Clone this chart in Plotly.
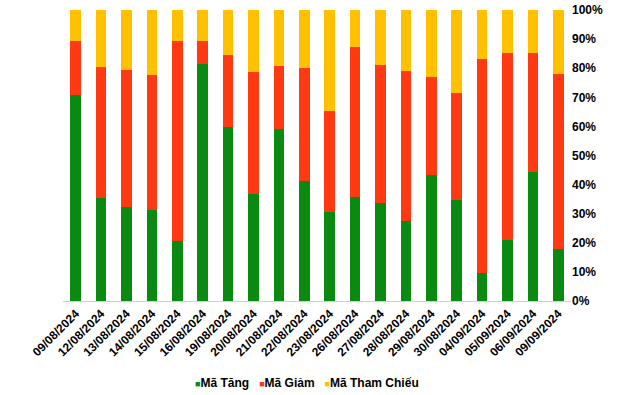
import plotly.graph_objects as go

dates = ["09/08/2024", "12/08/2024", "13/08/2024", "14/08/2024", "15/08/2024",
         "16/08/2024", "19/08/2024", "20/08/2024", "21/08/2024", "22/08/2024",
         "23/08/2024", "26/08/2024", "27/08/2024", "28/08/2024", "29/08/2024",
         "30/08/2024", "04/09/2024", "05/09/2024", "06/09/2024", "09/09/2024"]

ma_tang = [70.8, 35.5, 32.3, 31.4, 20.6, 81.6, 59.8, 36.9, 59.1, 41.2,
           30.7, 35.7, 33.7, 27.5, 43.3, 34.8, 9.6, 21.1, 44.4, 17.9]
ma_giam = [18.5, 44.9, 47.1, 46.3, 68.7, 7.7, 24.7, 41.8, 21.7, 38.9,
           34.6, 51.6, 47.4, 51.5, 33.7, 36.7, 73.6, 64.1, 40.8, 60.1]
ma_tham_chieu = [10.7, 19.6, 20.6, 22.3, 10.7, 10.7, 15.5, 21.3, 19.2, 19.9,
                 34.7, 12.7, 18.9, 21.0, 23.0, 28.5, 16.8, 14.8, 14.8, 22.0]

series_names = ["Mã Tăng", "Mã Giảm", "Mã Tham Chiếu"]
series_colors = ["#0B8A12", "#FF3A12", "#FFC000"]

y_ticks = [0, 10, 20, 30, 40, 50, 60, 70, 80, 90, 100]
y_tick_labels = [f"{v}%" for v in y_ticks]

FONT = "Liberation Sans, Arial, sans-serif"

fig = go.Figure()
for name, vals, col in zip(series_names, [ma_tang, ma_giam, ma_tham_chieu], series_colors):
    fig.add_trace(go.Bar(x=dates, y=vals, name=name, marker_color=col, marker_line_width=0))

legend_html = "&nbsp;&nbsp;&nbsp;".join(
    f'<span style="color:{c};font-size:9px">■</span><b>{n}</b>'
    for n, c in zip(series_names, series_colors)
)

fig.update_layout(
    barmode="stack",
    bargap=0.58,
    width=640, height=395,
    margin=dict(l=63, r=69, t=10, b=94, autoexpand=False),
    plot_bgcolor="white", paper_bgcolor="white",
    font=dict(family=FONT, size=12, color="black"),
    showlegend=False,
    annotations=[dict(
        text=legend_html, xref="paper", yref="paper",
        x=(307 - 63) / 508, y=(301 - 383) / 291,
        xanchor="center", yanchor="middle", showarrow=False,
        font=dict(family=FONT, size=12, color="black"),
    )],
)
fig.update_xaxes(
    type="category", tickangle=-45, automargin=False,
    tickfont=dict(size=12, family=FONT, weight="bold"),
    showline=True, linecolor="#D0D0D0", linewidth=1, ticks="", showgrid=False,
)
fig.update_yaxes(
    side="right", range=[0, 100], tickvals=y_ticks, ticktext=y_tick_labels,
    automargin=False,
    tickfont=dict(size=12, family=FONT, weight="bold"),
    showgrid=False, zeroline=False, showline=False, ticks="",
)

fig.write_html(
    "out.html",
    config={"displayModeBar": False},
    post_script="document.body.style.margin='0';document.body.style.overflow='hidden';",
)
